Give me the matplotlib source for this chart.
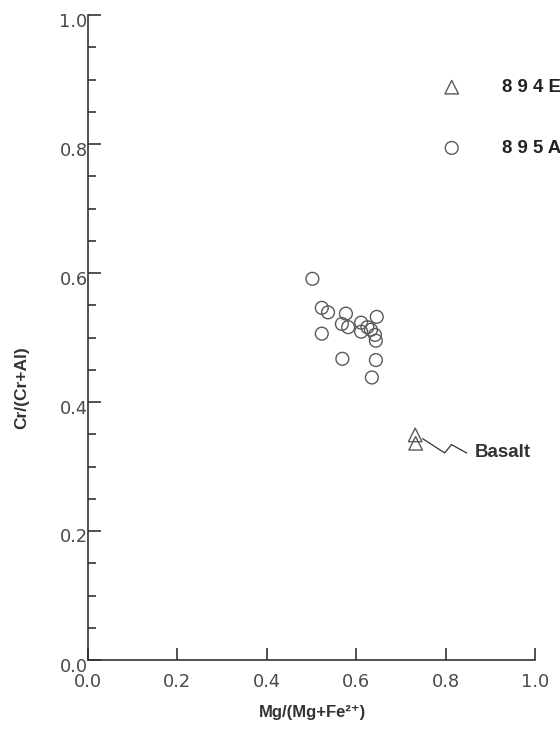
import matplotlib
matplotlib.use('Agg')
import matplotlib.pyplot as plt
import matplotlib.transforms as mtransforms
from matplotlib.ticker import MultipleLocator

# Hole 895A spinels
mg_895a = [0.502, 0.523, 0.537, 0.523, 0.577, 0.568, 0.582, 0.611, 0.611,
           0.625, 0.633, 0.646, 0.642, 0.644, 0.569, 0.644, 0.635]
cr_895a = [0.591, 0.546, 0.539, 0.506, 0.537, 0.521, 0.516, 0.523, 0.509,
           0.516, 0.512, 0.532, 0.504, 0.495, 0.467, 0.465, 0.438]

# Hole 894E spinels (basalt)
mg_894e = [0.732, 0.733]
cr_894e = [0.349, 0.336]

series_labels = ['8 9 4 E', '8 9 5 A']

# leader line for the "Basalt" note
leader_x = [0.749, 0.798, 0.813, 0.847]
leader_y = [0.343, 0.321, 0.334, 0.321]
note_xy = (0.866, 0.321)

x_ticks = [0.0, 0.2, 0.4, 0.6, 0.8, 1.0]
y_ticks = [0.0, 0.2, 0.4, 0.6, 0.8, 1.0]

grey = '#5a5a5a'
dark = '#333333'
label_font = ['Liberation Sans', 'DejaVu Sans']

fig = plt.figure(figsize=(5.6, 7.3), dpi=100)
ax = fig.add_axes([88 / 560., 70 / 730., 447 / 560., 645 / 730.])

tri = ax.scatter(mg_894e, cr_894e, marker='^', s=95, facecolors='none',
                 edgecolors=grey, linewidths=1.0, label=series_labels[0],
                 zorder=3)
circ = ax.scatter(mg_895a, cr_895a, marker='o', s=85, facecolors='none',
                  edgecolors=grey, linewidths=1.0, label=series_labels[1],
                  zorder=3)

ax.plot(leader_x, leader_y, color=dark, linewidth=0.9)
ax.text(note_xy[0], note_xy[1], 'Basalt', fontsize=13.5, fontweight='bold',
        family=label_font, color=dark, va='center', ha='left')

ax.set_xlim(0, 1)
ax.set_ylim(0, 1)
ax.set_xticks(x_ticks)
ax.set_yticks(y_ticks)
ax.set_xticklabels(['%.1f' % t for t in x_ticks])
ax.set_yticklabels(['%.1f' % t for t in y_ticks])
ax.yaxis.set_minor_locator(MultipleLocator(0.05))

for side in ['top', 'right']:
    ax.spines[side].set_visible(False)
for side in ['left', 'bottom']:
    ax.spines[side].set_color(dark)
    ax.spines[side].set_linewidth(1.2)

ax.tick_params(axis='x', which='major', direction='in', length=9, width=1.2,
               color=dark, pad=9.5, labelsize=12.8, labelcolor='#4a4a4a')
ax.tick_params(axis='y', which='major', direction='in', length=9, width=1.2,
               color=dark, pad=0.3, labelsize=12.8, labelcolor='#4a4a4a')
ax.tick_params(axis='y', which='minor', direction='in', length=6, width=1.2,
               color=dark)

# y tick labels sit a little below their ticks
shift = mtransforms.ScaledTranslation(0, -4.5 / 100., fig.dpi_scale_trans)
for lab in ax.get_yticklabels():
    lab.set_transform(lab.get_transform() + shift)

fig.text(312 / 560., 1 - 712 / 730., 'Mg/(Mg+Fe²⁺)', fontsize=12,
         fontweight='bold', family=label_font, color=dark,
         ha='center', va='center')
fig.text(22 / 560., 1 - 388 / 730., 'Cr/(Cr+Al)', fontsize=12.5,
         fontweight='bold', family=label_font, color=dark,
         ha='center', va='center', rotation=90)

leg = ax.legend(handles=[tri, circ], loc='upper left',
                bbox_to_anchor=(442.4 / 560., 1 - 79 / 730.),
                bbox_transform=fig.transFigure, frameon=False,
                borderpad=0, borderaxespad=0, handlelength=1.0,
                handletextpad=2.19, labelspacing=2.35,
                prop={'family': label_font, 'weight': 'bold', 'size': 13.4})
for t in leg.get_texts():
    t.set_color('#222222')

fig.savefig('out.png', dpi=100)
